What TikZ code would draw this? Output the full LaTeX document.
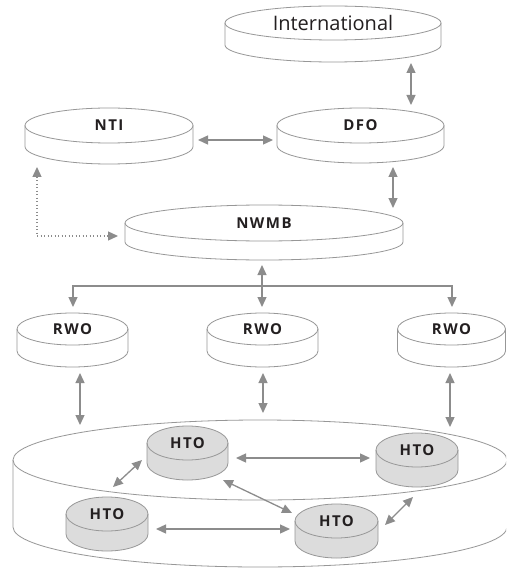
\documentclass[tikz,border=0pt]{standalone}
\usepackage{fontspec}
\newfontfamily\labfont{Open Sans}[LetterSpace=10]
\newfontfamily\bigfont{Open Sans}
\usetikzlibrary{arrows.meta,calc}
\definecolor{lc}{HTML}{8C8C8C}
\definecolor{oc}{HTML}{979797}
\definecolor{hf}{HTML}{DCDCDC}
\definecolor{tc}{HTML}{231F20}
\tikzset{
  diskline/.style={draw=oc, line width=0.8pt},
  lab/.style={text=tc, font=\labfont\bfseries\fontsize{15}{17}\selectfont, inner sep=0pt},
  arr/.style={draw=lc, line width=1.3pt, {Triangle[length=10pt,width=9pt]}-{Triangle[length=10pt,width=9pt]}},
  dotarr/.style={arr, dash pattern=on 1.3pt off 2.2pt, line width=1.3pt},
}
% #1 name, #2 cx, #3 cy, #4 rx, #5 ry, #6 depth, #7 fill, #8 node options, #9 text
\newcommand\mydisk[9]{%
  \fill[#7] (#2-#4,#3) -- (#2-#4,#3+#6) arc[start angle=180,end angle=0,x radius=#4,y radius=#5]
     -- (#2+#4,#3) arc[start angle=0,end angle=-180,x radius=#4,y radius=#5] -- cycle;
  \draw[diskline] (#2-#4,#3) -- (#2-#4,#3+#6) arc[start angle=180,end angle=0,x radius=#4,y radius=#5] -- (#2+#4,#3);
  \draw[diskline] (#2,#3) ellipse[x radius=#4,y radius=#5];
  \node[#8] (#1) at (#2,#3) {#9};
}
\begin{document}
\begin{tikzpicture}[x=1pt,y=-1pt]
\useasboundingbox (0,0) rectangle (506,569);
\clip (0,0) rectangle (506,569);
\fill[white] (0,0) rectangle (506,569);

\mydisk{intl}{333}{23}{108}{17}{22}{white}{text=tc,font=\bigfont\fontsize{20}{24}\selectfont,inner sep=0pt}{International}
\mydisk{nti}{109}{125.5}{84}{17.5}{21}{white}{lab}{NTI}
\mydisk{dfo}{360.5}{125.5}{83.5}{17.5}{20}{white}{lab}{DFO}
\mydisk{nwmb}{264}{223}{139}{18}{19}{white}{lab}{NWMB}
\mydisk{rwoL}{72.5}{329}{55.5}{16}{22}{white}{lab}{RWO}
\mydisk{rwoM}{262.5}{329}{55.5}{16}{22}{white}{lab}{RWO}
\mydisk{rwoR}{451.5}{329}{54}{16}{22}{white}{lab}{RWO}
\mydisk{region}{260}{460}{247}{40}{67}{white}{inner sep=0pt}{}

\mydisk{htoA}{187.5}{443}{40.5}{17}{20}{hf}{lab}{HTO}
\mydisk{htoB}{417}{450}{41}{17}{20}{hf}{lab}{HTO}
\mydisk{htoC}{107}{514}{41}{17}{20}{hf}{lab}{HTO}
\mydisk{htoD}{336.5}{521}{41.5}{17}{20}{hf}{lab}{HTO}

% upper connectors
\draw[arr] ($(intl)+(78,40)$) -- ($(dfo)+(50.5,-20.5)$);
\draw[arr] ($(nti)+(89,14.5)$) -- ($(dfo)+(-87.5,14.5)$);
\draw[arr] ($(dfo)+(32.5,41.5)$) -- ($(nwmb)+(129,-15)$);
\draw[dotarr] ($(nti)+(-72,41.5)$) |- ($(nwmb)+(-146,13)$);
\draw[arr] ($(nwmb)+(-2,42)$) -- ($(rwoM)+(-0.5,-22)$);
\draw[arr] ($(rwoL)+(0.5,-22)$) |- ($(rwoR)+(0.5,-43)$) -- ($(rwoR)+(0.5,-22)$);
% RWO to region
\draw[arr] ($(rwoL)+(7.5,44)$) -- ($(region)+(-180,-35)$);
\draw[arr] ($(rwoM)+(0.5,44)$) -- ($(region)+(3,-47)$);
\draw[arr] ($(rwoR)+(-1.5,44)$) -- ($(region)+(190,-33)$);
% HTO connectors
\draw[arr] ($(htoA)+(48.5,15)$) -- ($(htoB)+(-47,8)$);
\draw[arr] ($(htoC)+(49,15)$) -- ($(htoD)+(-46.5,8)$);
\draw[arr] ($(htoA)+(-45.5,17)$) -- ($(htoC)+(6,-27)$);
\draw[arr] ($(htoA)+(35.5,37)$) -- ($(htoD)+(-44.5,-8)$);
\draw[arr] ($(htoD)+(48.5,4)$) -- ($(htoB)+(-4,47)$);
\end{tikzpicture}
\end{document}
